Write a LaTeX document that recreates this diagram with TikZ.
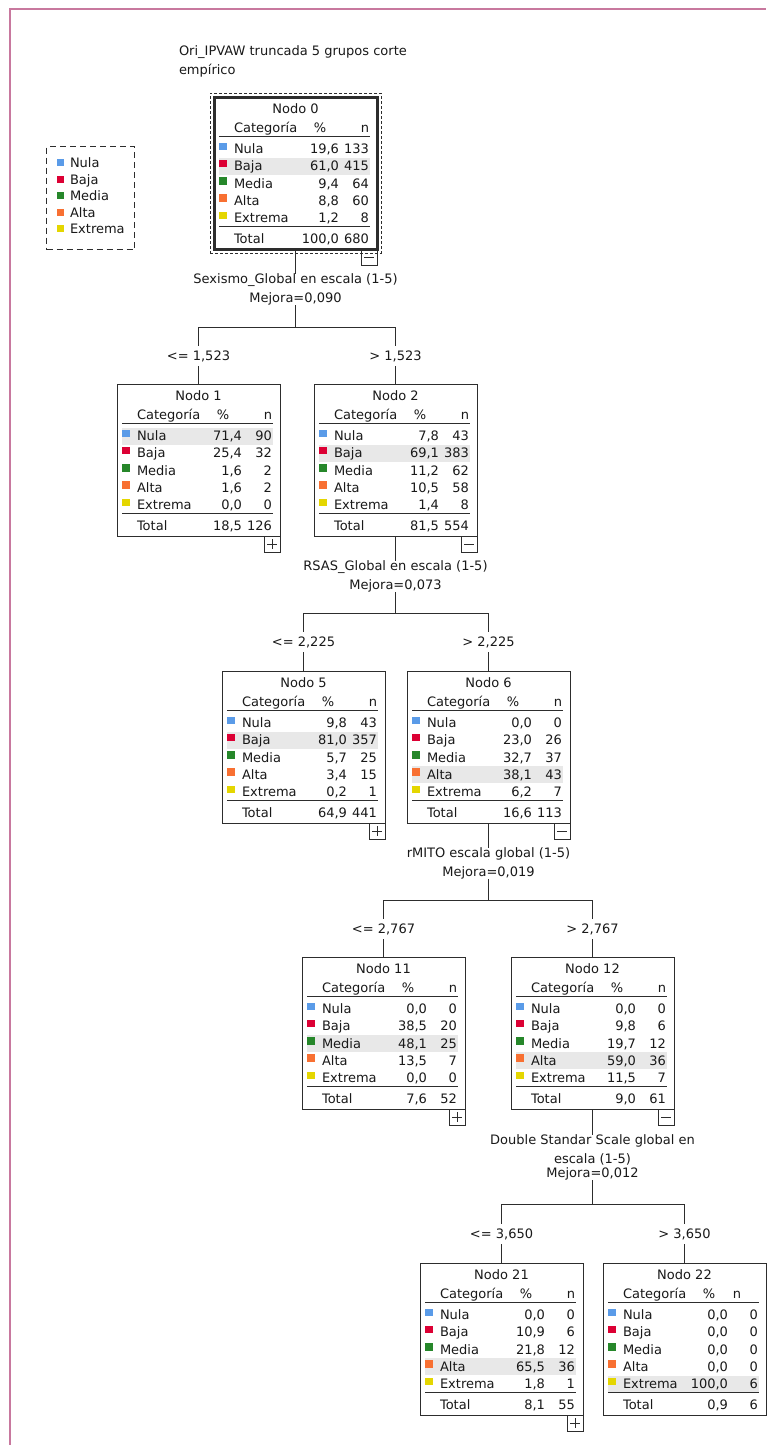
\documentclass[tikz,border=0pt]{standalone}
\usepackage{fontspec}
\setmainfont{DejaVu Sans}
\usetikzlibrary{fit}

\definecolor{frameline}{RGB}{200,120,158}
\definecolor{boxline}{RGB}{45,45,45}
\definecolor{ink}{RGB}{25,25,25}
\definecolor{hlgray}{RGB}{232,232,232}
\definecolor{cNula}{RGB}{90,155,232}
\definecolor{cBaja}{RGB}{220,0,52}
\definecolor{cMedia}{RGB}{38,135,42}
\definecolor{cAlta}{RGB}{248,112,50}
\definecolor{cExtrema}{RGB}{228,214,0}

\newcommand\tfont{\fontsize{13}{19}\selectfont}

\tikzset{
  tbox/.style={draw=boxline, line width=1pt, minimum width=163pt, minimum height=152pt,
    inner sep=0pt, outer sep=0pt, anchor=north west},
  txt/.style={inner sep=0pt, outer sep=0pt, font=\tfont, text=ink},
  rule/.style={draw=boxline, line width=1pt},
  conn/.style={draw=boxline, line width=1pt},
  split/.style={txt, align=center},
  blabel/.style={txt, fill=white, inner xsep=2pt, inner ysep=4pt},
  markbox/.style={draw=boxline, line width=1pt, minimum size=16pt, inner sep=0pt,
    outer sep=0pt, anchor=north east},
}

% x offset of the "n" column header inside a box
\def\nheadx{155}
\def\nheadanchor{base east}

% table box: [extra style] name, left, top, title, highlighted row (1..5)
\newcommand\treebox[6][]{%
  \node[tbox,#1] (#2) at (#3,#4) {};
  \begin{scope}[shift={(#2.north west)}]
    \pgfmathsetmacro\hly{52+17.25*(#6-1)}
    \fill[hlgray] (5,\hly-8.5) rectangle (156,\hly+8.5);
    \node[txt, anchor=base] (#2-title) at (81.5,16.5) {#5};
    \node[txt, anchor=base west] (#2-hc) at (20,35.5) {Categoría};
    \node[txt, anchor=base] (#2-hp) at (106,35.5) {\%};
    \node[txt, anchor=\nheadanchor] (#2-hn) at (\nheadx,35.5) {n};
    \draw[rule] (5,39) -- (156,39);
    \draw[rule] (5,129) -- (156,129);
    \foreach \i/\lab/\col in {1/Nula/cNula,2/Baja/cBaja,3/Media/cMedia,4/Alta/cAlta,5/Extrema/cExtrema}{
      \pgfmathsetmacro\rc{52+17.25*(\i-1)}
      \fill[\col] (5,\rc-6.5) rectangle (13,\rc+1);
      \node[txt, anchor=base west] (#2-c\i) at (20,\rc+4.5) {\lab};
    }
    \node[txt, anchor=base west] (#2-ct) at (20,146.5) {Total};
  \end{scope}
}

% one row of values: box name, row (1..5, 6 = Total), percent, count
\newcommand\trow[4]{%
  \pgfmathsetmacro\rc{#2<6 ? 52+17.25*(#2-1) : 142}%
  \path[shift={(#1.north west)}]
    node[txt, anchor=base east] (#1-p#2) at (125,\rc+4.5) {#3}
    node[txt, anchor=base east] (#1-n#2) at (155,\rc+4.5) {#4};
}

% expand/collapse mark under a box: box name, 1 = minus, 0 = plus
\newcommand\boxmark[2]{%
  \node[markbox] (#1-mk) at (#1.south east) {};
  \draw[rule, shift={(#1-mk.center)}] (-5,0) -- (5,0);
  \ifnum#2=0 \draw[rule, shift={(#1-mk.center)}] (0,-5) -- (0,5); \fi
}

\begin{document}
\begin{tikzpicture}[x=1pt, y=-1pt]
\useasboundingbox (0,0) rectangle (766,1445);
\fill[white] (0,0) rectangle (766,1445);
\draw[frameline, line width=2pt] (9.5,1445) -- (9.5,9.5) -- (766,9.5);

% heading
\node[txt, anchor=base west] (title1) at (179,55.5) {Ori\_IPVAW truncada 5 grupos corte};
\node[txt, anchor=base west] (title2) at (179,74.5) {empírico};

% legend
\node[draw=boxline, line width=1pt, dash pattern=on 6pt off 4pt, minimum width=88pt,
  minimum height=103pt, inner sep=0pt, anchor=north west] (legend) at (46,146) {};
\foreach \i/\lab/\col in {1/Nula/cNula,2/Baja/cBaja,3/Media/cMedia,4/Alta/cAlta,5/Extrema/cExtrema}{
  \pgfmathsetmacro\rc{163+16.6*(\i-1)}
  \fill[\col] (57,\rc-4) rectangle (64,\rc+3);
  \node[txt, anchor=base west] (leg\i) at (70,\rc+4.5) {\lab};
}

% ---- boxes ----
\treebox[line width=3pt]{n0}{214}{97}{Nodo 0}{2}
\node[fit=(n0), inner sep=4pt, draw=boxline, line width=1pt, dash pattern=on 3pt off 2pt] (n0frame) {};
\trow{n0}{1}{19,6}{133}
\trow{n0}{2}{61,0}{415}
\trow{n0}{3}{9,4}{64}
\trow{n0}{4}{8,8}{60}
\trow{n0}{5}{1,2}{8}
\trow{n0}{6}{100,0}{680}

\treebox{n1}{117}{384}{Nodo 1}{1}
\trow{n1}{1}{71,4}{90}
\trow{n1}{2}{25,4}{32}
\trow{n1}{3}{1,6}{2}
\trow{n1}{4}{1,6}{2}
\trow{n1}{5}{0,0}{0}
\trow{n1}{6}{18,5}{126}

\treebox{n2}{314}{384}{Nodo 2}{2}
\trow{n2}{1}{7,8}{43}
\trow{n2}{2}{69,1}{383}
\trow{n2}{3}{11,2}{62}
\trow{n2}{4}{10,5}{58}
\trow{n2}{5}{1,4}{8}
\trow{n2}{6}{81,5}{554}

\treebox{n5}{222}{671}{Nodo 5}{2}
\trow{n5}{1}{9,8}{43}
\trow{n5}{2}{81,0}{357}
\trow{n5}{3}{5,7}{25}
\trow{n5}{4}{3,4}{15}
\trow{n5}{5}{0,2}{1}
\trow{n5}{6}{64,9}{441}

\treebox{n6}{407}{671}{Nodo 6}{4}
\trow{n6}{1}{0,0}{0}
\trow{n6}{2}{23,0}{26}
\trow{n6}{3}{32,7}{37}
\trow{n6}{4}{38,1}{43}
\trow{n6}{5}{6,2}{7}
\trow{n6}{6}{16,6}{113}

\treebox{n11}{302}{957}{Nodo 11}{3}
\trow{n11}{1}{0,0}{0}
\trow{n11}{2}{38,5}{20}
\trow{n11}{3}{48,1}{25}
\trow{n11}{4}{13,5}{7}
\trow{n11}{5}{0,0}{0}
\trow{n11}{6}{7,6}{52}

\treebox{n12}{511}{957}{Nodo 12}{4}
\trow{n12}{1}{0,0}{0}
\trow{n12}{2}{9,8}{6}
\trow{n12}{3}{19,7}{12}
\trow{n12}{4}{59,0}{36}
\trow{n12}{5}{11,5}{7}
\trow{n12}{6}{9,0}{61}

\treebox{n21}{420}{1263}{Nodo 21}{4}
\trow{n21}{1}{0,0}{0}
\trow{n21}{2}{10,9}{6}
\trow{n21}{3}{21,8}{12}
\trow{n21}{4}{65,5}{36}
\trow{n21}{5}{1,8}{1}
\trow{n21}{6}{8,1}{55}

\def\nheadx{134}\def\nheadanchor{base}
\treebox{n22}{603}{1263}{Nodo 22}{5}
\trow{n22}{1}{0,0}{0}
\trow{n22}{2}{0,0}{0}
\trow{n22}{3}{0,0}{0}
\trow{n22}{4}{0,0}{0}
\trow{n22}{5}{100,0}{6}
\trow{n22}{6}{0,9}{6}

% ---- split labels ----
\node[split] (s0) at (295.5,289.5) {Sexismo\_Global en escala (1-5)\\Mejora=0,090};
\node[split] (s2) at (395.5,576.5) {RSAS\_Global en escala (1-5)\\Mejora=0,073};
\node[split] (s6) at (488.5,863.5) {rMITO escala global (1-5)\\Mejora=0,019};
\node[split] (s12) at (592.5,1157.5) {Double Standar Scale global en\\escala (1-5)\\[-5pt]Mejora=0,012};

% ---- connectors ----
\coordinate (b0) at (295.5,327);
\coordinate (b2) at (395.5,613);
\coordinate (b6) at (488.5,900);
\coordinate (b12) at (592.5,1204);

\draw[conn] (n0.south) -- (s0.north);
\draw[conn] (s0.south) -- (b0) -| (n1.north);
\draw[conn] (b0) -| (n2.north);

\draw[conn] (n2.south) -- (s2.north);
\draw[conn] (s2.south) -- (b2) -| (n5.north);
\draw[conn] (b2) -| (n6.north);

\draw[conn] (n6.south) -- (s6.north);
\draw[conn] (s6.south) -- (b6) -| (n11.north);
\draw[conn] (b6) -| (n12.north);

\draw[conn] (n12.south) -- (s12.north);
\draw[conn] (s12.south) -- (b12) -| (n21.north);
\draw[conn] (b12) -| (n22.north);

% ---- branch conditions ----
\node[blabel] (l1) at (198.5,356) {<= 1,523};
\node[blabel] (l2) at (395.5,356) {> 1,523};
\node[blabel] (l5) at (303.5,642) {<= 2,225};
\node[blabel] (l6) at (488.5,642) {> 2,225};
\node[blabel] (l11) at (383.5,929) {<= 2,767};
\node[blabel] (l12) at (592.5,929) {> 2,767};
\node[blabel] (l21) at (501.5,1234) {<= 3,650};
\node[blabel] (l22) at (684.5,1234) {> 3,650};

% ---- expand / collapse marks ----
\boxmark{n0}{1}
\boxmark{n1}{0}
\boxmark{n2}{1}
\boxmark{n5}{0}
\boxmark{n6}{1}
\boxmark{n11}{0}
\boxmark{n12}{1}
\boxmark{n21}{0}
\end{tikzpicture}
\end{document}
